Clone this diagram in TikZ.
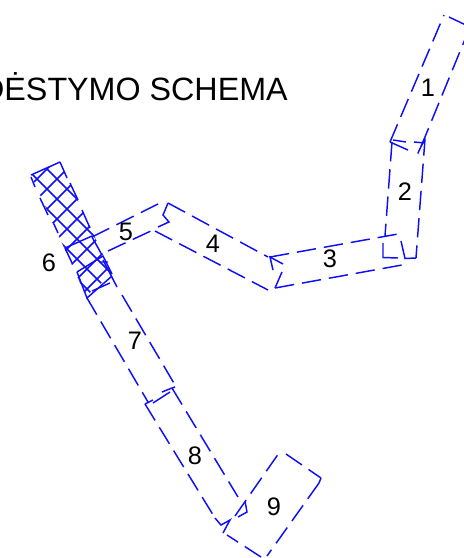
\documentclass[tikz,border=0pt]{standalone}
\usepackage{fontspec}
\setmainfont{Liberation Sans}
\definecolor{planblue}{RGB}{15,15,245}
\tikzset{
  planline/.style={draw=planblue,line width=1.1pt},
  plandash/.style={planline,dash pattern=on 14.5pt off 6pt},
  hatchline/.style={draw=planblue,line width=1.1pt},
  numlabel/.style={font=\fontsize{19pt}{22pt}\selectfont,inner sep=0pt,text=black},
  titletext/.style={font=\fontsize{24.2pt}{27pt}\selectfont,inner sep=0pt,text=black,anchor=base east}
}
\begin{document}
\begin{tikzpicture}[x=0.75pt,y=-0.75pt]
\useasboundingbox (0,0) rectangle (464,558);
\clip (0,0) rectangle (464,558);
\node[titletext] (title) at (288,100.7) {DĖSTYMO SCHEMA};
% strip 1
\draw[plandash] (390,142) -- (444,15);
\draw[plandash] (449,17) -- (470,27);
\draw[plandash] (470,27) -- (418,154);
\draw[planline] (390,142) -- (408,150) (414,142) -- (425,143);
% strip 2
\draw[plandash] (392,142) -- (385,236);
\draw[plandash,dash phase=2pt] (425,139) -- (416,258);
\draw[planline] (393,140) -- (406,142) (425,138) -- (418,153);
\draw[planline] (416,258) -- (405,258.5) -- (401,241);
\draw[planline] (383,243) -- (383,257.5) -- (398,258);
% strip 3
\draw[plandash] (270,257) -- (398,234);
\draw[plandash] (275,288) -- (402,265);
\draw[planline] (283,264) -- (270,257) -- (273,270);
\draw[planline] (282,272) -- (275,288);
% strip 4
\draw[plandash] (168,203) -- (268,257);
\draw[plandash] (155,231) -- (268,290);
\draw[planline] (168,203) -- (163,215) -- (169,222) -- (158,227);
% strip 5
\draw[plandash] (92,237) -- (160,203);
\draw[plandash] (108,251) -- (153,230);
\draw[planline] (92,237) -- (102,255);
% strip 6, hatching
\begin{scope}
\clip (31,175) -- (60,162) -- (112,274) -- (86,296) -- cycle;
\foreach \k in {-1,...,6} {
  \draw[hatchline] (0,122+20*\k) -- (140,262+20*\k);
}
\foreach \m in {0,...,10} {
  \draw[hatchline] (0,216+20*\m) -- (140,76+20*\m);
}
\end{scope}
\draw[planline] (31,175) -- (60,162);
\draw[planline] (31,177) -- (35,187) (40,198) -- (48,215) (53,222) -- (58,233);
\draw[planline] (60,162) -- (67,178) (70,183) -- (78,200) (82,210) -- (90,228);
\draw[planline] (65,248) -- (72,263) (65,248) -- (92,236);
\draw[planline] (77,272) -- (87,298) -- (112,276) (77,272) -- (103,256) -- (112,274);
\draw[planline] (92,291) -- (110,283) (99,262) -- (108,262);
\draw[planline] (103,260) -- (117,287);
% strip 7
\draw[plandash] (87,298) -- (148,402);
\draw[plandash] (122,295) -- (175,385);
\draw[planline] (145,404) -- (153,400) (153,403) -- (170,392) (162,392) -- (172,388) -- (175,387);
% strip 8
\draw[plandash] (145,404) -- (215,518);
\draw[plandash] (172,388) -- (238,497);
\draw[planline] (215,518) -- (221,525) -- (230,520) -- (223,533);
% strip 9
\draw[plandash] (235,516) -- (279,453);
\draw[plandash] (286,454) -- (321,478);
\draw[planline] (321,478) -- (319,483);
\draw[plandash] (319,483) -- (267,556);
\draw[plandash] (261,557) -- (227,535);
\draw[planline] (245,501) -- (247,512) -- (238,517);
% labels
\node[numlabel] (n1) at (428,88) {1};
\node[numlabel] (n2) at (405,192) {2};
\node[numlabel] (n3) at (330,259) {3};
\node[numlabel] (n4) at (213,244) {4};
\node[numlabel] (n5) at (126,232) {5};
\node[numlabel] (n6) at (49,263) {6};
\node[numlabel] (n7) at (135,341) {7};
\node[numlabel] (n8) at (195,456) {8};
\node[numlabel] (n9) at (274,507) {9};
\end{tikzpicture}
\end{document}
